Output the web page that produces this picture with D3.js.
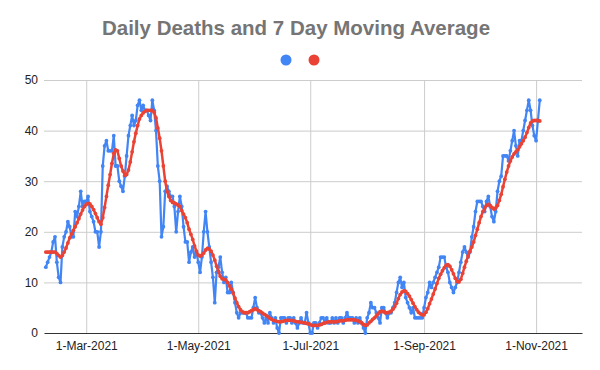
<!DOCTYPE html>
<html>
<head>
<meta charset="utf-8">
<script src="https://cdn.jsdelivr.net/npm/d3@7"></script>
<style>
  body { margin: 0; background: #fff; }
  svg { display: block; font-family: Arial, "Liberation Sans", sans-serif; }
</style>
</head>
<body>
<svg id="chart" width="600" height="370"></svg>
<script>
// first day of data, one value per day after it
var startDate = "2021-02-07";

var dailyDeaths = [
    13,14,15,16,18,19,14,11,10,17,
    19,20,22,21,19,19,24,23,25,28,
    25,26,26,27,24,23,22,20,20,17,
    20,33,37,38,36,36,36,39,33,33,
    30,29,28,31,35,39,41,43,41,42,
    45,46,44,45,44,44,43,42,46,44,
    40,33,30,19,21,28,29,28,27,27,
    25,20,24,27,25,21,18,18,14,16,
    17,15,16,14,12,15,20,24,20,17,
    14,11,6,12,13,15,12,10,11,8,
    8,10,8,6,4,3,4,4,4,4,
    3,3,3,5,7,5,4,4,3,2,
    3,2,4,3,2,3,1,0,3,3,
    3,2,3,3,2,3,2,1,2,3,
    2,2,4,2,0,0,2,2,1,2,
    3,3,2,3,2,2,3,2,3,2,
    3,3,2,3,4,3,3,3,2,3,
    2,3,2,1,0,3,4,6,5,5,
    4,3,2,5,5,4,3,4,4,5,
    6,8,10,11,9,10,7,6,5,4,
    5,3,3,3,3,3,5,7,8,10,
    9,10,11,12,13,15,15,15,13,12,
    10,9,8,9,10,12,14,16,17,16,
    15,16,19,21,24,26,26,26,25,24,
    26,27,25,23,22,24,28,30,31,35,
    35,35,34,36,38,40,37,35,38,38,
    40,42,44,46,44,41,39,38,42,46
];

var movingAverage = [
    16,16,16,16,16,16,15.7,15.3,15,15.3,
    16,16.8,17.8,18.8,19.6,20.3,21,21.8,22.6,23.5,
    24.3,25,25.4,25.6,25.5,25,24.4,23.6,22.8,22,
    21.5,22.8,24.8,27,29.2,31.3,33.5,35.5,36.2,36,
    34.5,33,32,31.2,31.3,32.2,33.8,35.8,37.8,39.5,
    41,42.3,43,43.5,43.8,44,44,44,44,43.6,
    42.5,40.5,38.5,36,33,30,28,27,26.2,25.8,
    25.7,25.5,25.3,25,24.2,23.5,22.8,21.8,20.5,19.5,
    18.5,17.2,16.2,15.4,15.2,15.4,15.8,16.4,16.7,16.6,
    16.2,15.4,14.4,13.2,12.2,11.2,10.7,10.6,10.5,10,
    9.3,8.7,7.9,6.9,6,5.2,4.6,4.2,4,4,
    4,4.2,4.4,4.6,4.8,4.6,4.4,4.2,3.9,3.7,
    3.5,3.2,2.9,2.7,2.5,2.4,2.3,2.2,2.2,2.3,
    2.4,2.5,2.5,2.5,2.5,2.4,2.3,2.2,2.2,2.1,
    2.1,2,1.9,1.8,1.7,1.5,1.5,1.5,1.5,1.6,
    1.7,1.9,2,2.1,2.2,2.2,2.2,2.2,2.2,2.3,
    2.4,2.4,2.4,2.5,2.6,2.6,2.6,2.6,2.6,2.5,
    2.4,2.2,2,1.7,1.5,1.6,2,2.3,2.7,3,
    3.4,3.8,4.2,4.3,4.2,4,4,4.1,4.3,4.7,
    5.2,5.9,6.8,7.6,8.1,8.3,8.2,7.8,7.3,6.6,
    5.9,5.2,4.6,4.1,3.8,3.6,3.6,4.1,4.8,5.8,
    6.7,7.7,8.7,9.8,10.8,11.6,12.3,12.9,13.4,13.5,
    13.2,12.5,11.7,10.8,10.2,10.1,10.6,11.8,13,14.2,
    15.3,16.2,17,18,19.3,20.5,21.8,23,24,24.7,
    25.2,25.4,25.2,24.8,24.5,24.7,25.2,26.2,27.4,28.9,
    30.4,31.8,33,34,34.8,35.4,35.8,36.2,36.8,37.4,
    38,38.7,39.6,40.6,41.5,41.9,42,42,42,41.9
];

var xTickDates = ["2021-03-01", "2021-05-01", "2021-07-01", "2021-09-01", "2021-11-01"];
var xTickLabels = ["1-Mar-2021", "1-May-2021", "1-Jul-2021", "1-Sep-2021", "1-Nov-2021"];
var yTicks = [0, 10, 20, 30, 40, 50];
var xDomain = ["2021-02-06", "2021-11-26"];

var svg = d3.select("#chart"),
    margin = {top: 80, right: 18, bottom: 37, left: 44},
    width = 600 - margin.left - margin.right,
    height = 370 - margin.top - margin.bottom;

var parse = d3.utcParse("%Y-%m-%d");
var start = parse(startDate);

var rows = dailyDeaths.map(function(v, i) {
    return {date: d3.utcDay.offset(start, i), deaths: v, avg: movingAverage[i]};
});

var x = d3.scaleUtc().domain(xDomain.map(parse)).range([0, width]);
var y = d3.scaleLinear().domain([0, 50]).range([height, 0]);

// title + legend dots
svg.append("text")
    .attr("x", 296).attr("y", 35)
    .attr("text-anchor", "middle")
    .attr("font-size", 20.5).attr("font-weight", "bold")
    .attr("fill", "#757575")
    .text("Daily Deaths and 7 Day Moving Average");

svg.append("circle").attr("cx", 286).attr("cy", 60).attr("r", 5.5).attr("fill", "#4285f4");
svg.append("circle").attr("cx", 314).attr("cy", 60).attr("r", 5.5).attr("fill", "#ea4335");

var g = svg.append("g")
    .attr("transform", "translate(" + margin.left + "," + margin.top + ")");

// gridlines
g.append("g")
    .call(d3.axisLeft(y).tickValues(yTicks.slice(1)).tickSize(-width).tickFormat(""))
    .call(function(s) {
        s.select(".domain").remove();
        s.selectAll("line").attr("stroke", "#cccccc");
    });

var xTicks = xTickDates.map(parse);

g.append("g")
    .call(d3.axisTop(x).tickValues(xTicks).tickSize(-height).tickFormat(""))
    .call(function(s) {
        s.select(".domain").remove();
        s.selectAll("line").attr("stroke", "#cccccc");
    });

// y labels
g.append("g")
    .call(d3.axisLeft(y).tickValues(yTicks).tickSize(0).tickPadding(6))
    .call(function(s) {
        s.select(".domain").remove();
        s.selectAll("text").attr("font-size", 12).attr("fill", "#222")
            .attr("font-family", "Arial, 'Liberation Sans', sans-serif");
    });

// x axis
g.append("g")
    .attr("transform", "translate(0," + height + ")")
    .call(d3.axisBottom(x).tickValues(xTicks).tickSize(0).tickPadding(8)
        .tickFormat(function(d, i) { return xTickLabels[i]; }))
    .call(function(s) {
        s.select(".domain").attr("stroke", "#333").attr("stroke-width", 1.2);
        s.selectAll("text").attr("font-size", 12).attr("fill", "#222")
            .attr("font-family", "Arial, 'Liberation Sans', sans-serif");
    });

var deathLine = d3.line()
    .x(function(d) { return x(d.date); })
    .y(function(d) { return y(d.deaths); });

var avgLine = d3.line()
    .x(function(d) { return x(d.date); })
    .y(function(d) { return y(d.avg); });

g.append("path")
    .datum(rows)
    .attr("fill", "none")
    .attr("stroke", "#4285f4")
    .attr("stroke-width", 2.2)
    .attr("stroke-linejoin", "round")
    .attr("d", deathLine);

g.selectAll(".dpt")
    .data(rows)
    .enter().append("circle")
    .attr("class", "dpt")
    .attr("cx", function(d) { return x(d.date); })
    .attr("cy", function(d) { return y(d.deaths); })
    .attr("r", 1.9)
    .attr("fill", "#4285f4");

g.append("path")
    .datum(rows)
    .attr("fill", "none")
    .attr("stroke", "#ea4335")
    .attr("stroke-width", 2.5)
    .attr("stroke-linejoin", "round")
    .attr("d", avgLine);

g.selectAll(".apt")
    .data(rows)
    .enter().append("circle")
    .attr("class", "apt")
    .attr("cx", function(d) { return x(d.date); })
    .attr("cy", function(d) { return y(d.avg); })
    .attr("r", 1.9)
    .attr("fill", "#ea4335");
</script>
</body>
</html>
